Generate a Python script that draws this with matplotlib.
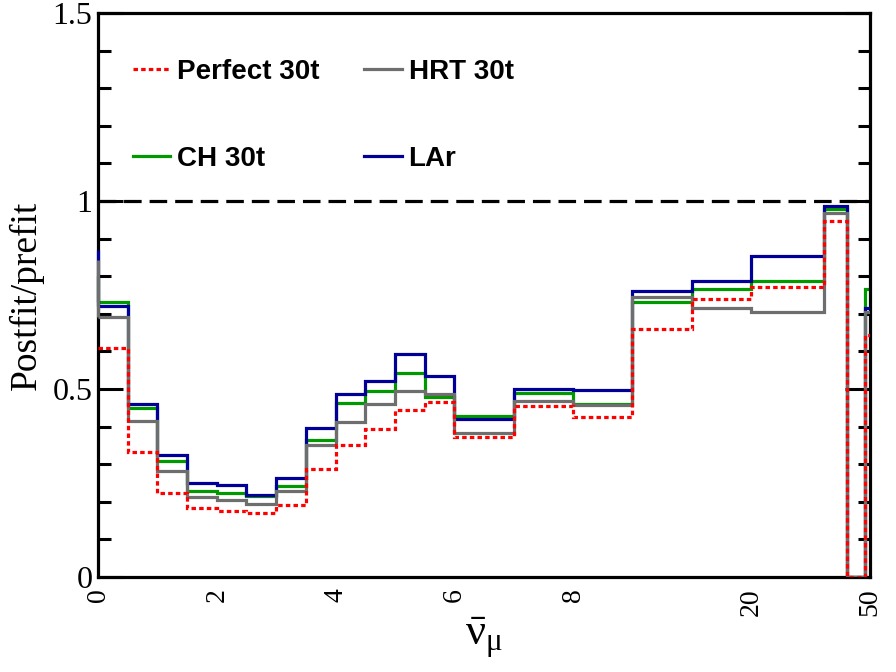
import numpy as np
import matplotlib
matplotlib.use('Agg')
import matplotlib.pyplot as plt
from matplotlib.lines import Line2D
from matplotlib.ticker import MultipleLocator

# ---- data ----
edges = [0, 0.5, 1, 1.5, 2, 2.5, 3, 3.5, 4, 4.5, 5, 5.5, 6, 7, 8, 12, 16, 20, 40, 45, 49, 50]
perfect = [0.610, 0.333, 0.224, 0.183, 0.176, 0.169, 0.191, 0.288, 0.351, 0.393, 0.444,
           0.466, 0.373, 0.456, 0.426, 0.660, 0.740, 0.770, 0.947, 0.0, 0.643]
hrt = [0.692, 0.416, 0.282, 0.214, 0.205, 0.193, 0.230, 0.351, 0.413, 0.461, 0.496,
       0.488, 0.384, 0.469, 0.457, 0.745, 0.716, 0.706, 0.969, 0.0, 0.705]
ch = [0.732, 0.449, 0.308, 0.230, 0.224, 0.216, 0.242, 0.364, 0.463, 0.496, 0.542,
      0.480, 0.429, 0.490, 0.459, 0.732, 0.767, 0.788, 0.978, 0.0, 0.767]
lar = [0.721, 0.460, 0.324, 0.251, 0.246, 0.218, 0.264, 0.397, 0.488, 0.521, 0.592,
       0.535, 0.420, 0.499, 0.497, 0.761, 0.788, 0.854, 0.988, 0.0, 0.716]
underflow = {'Perfect 30t': 0.610, 'HRT 30t': 0.843, 'CH 30t': 0.80, 'LAr': 0.870}
xtick_vals = [0, 2, 4, 6, 8, 20, 50]
xtick_labels = ['0', '2', '4', '6', '8', '20', '50']
ytick_vals = [0, 0.5, 1, 1.5]
ytick_labels = ['0', '0.5', '1', '1.5']

# piecewise axis (energy -> display)
axis_E = [0, 8, 20, 40, 50]
axis_P = [0, 8, 11, 12.22, 13]

def fwd(x):
    return np.interp(x, axis_E, axis_P)

def inv(x):
    return np.interp(x, axis_P, axis_E)

plt.rcParams['mathtext.fontset'] = 'custom'
plt.rcParams['mathtext.rm'] = 'Liberation Serif'
plt.rcParams['mathtext.it'] = 'Liberation Serif:italic'
plt.rcParams['mathtext.bf'] = 'Liberation Serif:bold'

fig = plt.figure(figsize=(8.96, 6.72), dpi=100)
ax = fig.add_axes([98/896, 1-577/672, (870-98)/896, (577-13)/672])
ax.set_xscale('function', functions=(fwd, inv))

series = [
    ('CH 30t', ch, '#009900', '-', 2),
    ('LAr', lar, '#000099', '-', 3),
    ('HRT 30t', hrt, '#6e6e6e', '-', 4),
    ('Perfect 30t', perfect, '#ff0000', (0, (1.4, 1.0)), 5),
]
for name, vals, col, ls, z in series:
    ax.stairs(vals, edges, baseline=None, color=col, lw=2.3, linestyle=ls,
              zorder=z, joinstyle='miter')
    if underflow[name] != vals[0]:
        ax.vlines(edges[0], vals[0], underflow[name], color=col, lw=2.3,
                  zorder=z, clip_on=False)

ax.axhline(1.0, color='black', lw=2.3, linestyle=(0, (5.5, 2.5)), zorder=6)

ax.set_xlim(0, 50)
ax.set_ylim(0, 1.5)

serif = 'Liberation Serif'
ax.set_xticks(xtick_vals)
ax.set_xticklabels(xtick_labels, rotation=90, fontfamily=serif, fontsize=20)
ax.tick_params(axis='x', length=0, pad=8)
ax.xaxis.set_minor_locator(plt.NullLocator())

ax.set_yticks(ytick_vals)
ax.set_yticklabels(ytick_labels, fontfamily=serif, fontsize=23)
ax.yaxis.set_minor_locator(MultipleLocator(0.1))
ax.tick_params(axis='y', which='both', direction='in', left=True, right=True, width=2.2)
ax.tick_params(axis='y', which='major', length=18, pad=4)
ax.tick_params(axis='y', which='minor', length=9)

for s in ax.spines.values():
    s.set_linewidth(2.3)

ax.set_ylabel('Postfit/prefit', fontfamily=serif, fontsize=27, labelpad=6)
ax.set_xlabel(r'$\bar{\mathrm{\nu}}_{\mathrm{\mu}}$', fontsize=32, labelpad=0)

handles = [
    Line2D([], [], color='#ff0000', lw=2.3, linestyle=(0, (1.4, 1.0))),
    Line2D([], [], color='#009900', lw=2.3),
    Line2D([], [], color='#6e6e6e', lw=2.3),
    Line2D([], [], color='#000099', lw=2.3),
]
labels = ['Perfect 30t', 'CH 30t', 'HRT 30t', 'LAr']
leg = ax.legend(handles, labels, ncol=2, loc='upper left',
                bbox_to_anchor=(0.045, 0.919), frameon=False, borderpad=0,
                borderaxespad=0, handlelength=1.35, handletextpad=0.25,
                columnspacing=1.6, labelspacing=2.2,
                prop={'family': 'Liberation Sans', 'weight': 'bold', 'size': 20})

fig.savefig('out.png', dpi=100)
